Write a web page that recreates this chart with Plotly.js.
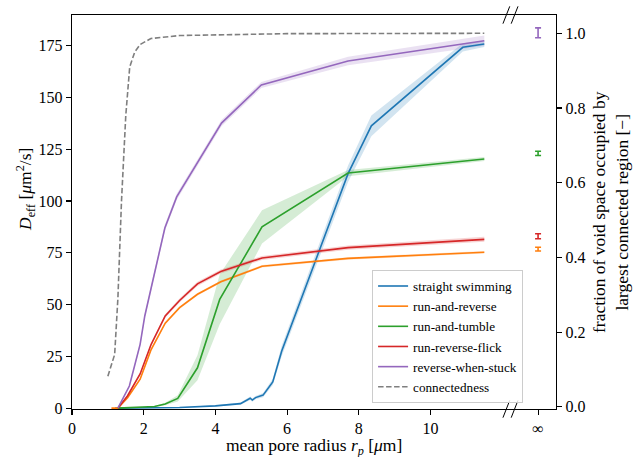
<!DOCTYPE html>
<html>
<head>
<meta charset="utf-8">
<script src="https://cdn.plot.ly/plotly-3.0.1.min.js"></script>
<style>html,body{margin:0;padding:0;background:#fff;}#chart{width:638px;height:457px;}</style>
</head>
<body>
<div id="chart"></div>
<script>
// ---- data ----
const seriesNames = ["straight swimming", "run-and-reverse", "run-and-tumble", "run-reverse-flick", "reverse-when-stuck"];

const blueX   = [1.2, 2.0, 3.0, 4.0, 4.7, 4.97, 5.03, 5.12, 5.33, 5.6, 5.85, 7.7, 8.35, 10.9, 11.5];
const blueY   = [0, 0.1, 0.3, 1.1, 2.2, 4.8, 3.9, 5.1, 6.3, 12.7, 27.6, 113.2, 136.3, 174.2, 175.8];
const blueErr = [0, 0.05, 0.1, 0.3, 0.5, 0.8, 0.8, 0.8, 1.0, 1.5, 2.5, 4.0, 5.0, 2.0, 1.5];

const orangeX   = [1.1, 1.28, 1.55, 1.9, 2.2, 2.6, 3.0, 3.5, 4.15, 5.3, 7.7, 11.5];
const orangeY   = [0, 0, 5, 14, 28, 41, 48.5, 55, 61, 68.5, 72.3, 75.3];
const orangeErr = [0, 0, 0.3, 0.5, 0.6, 0.6, 0.6, 0.6, 0.6, 0.6, 0.6, 0.6];

const greenX   = [1.28, 1.9, 2.3, 2.6, 2.95, 3.5, 4.12, 5.3, 7.7, 11.5];
const greenY   = [0, 0.3, 0.8, 2, 4.7, 19.5, 52.5, 87.5, 113.5, 120.3];
const greenErr = [0, 0.1, 0.3, 0.6, 1.5, 6, 12, 8, 1.5, 1];

const redX   = [1.28, 1.55, 1.9, 2.2, 2.6, 3.0, 3.5, 4.15, 5.3, 7.7, 11.5];
const redY   = [0, 6, 16.5, 30.5, 44.5, 52, 60, 66, 72.5, 77.5, 81.5];
const redErr = [0, 0.4, 0.6, 0.8, 0.9, 1, 1, 1, 1, 1, 1.2];

const purpleX   = [1.28, 1.6, 1.9, 2.03, 2.26, 2.59, 2.92, 4.17, 5.28, 7.7, 11.5];
const purpleY   = [0, 10.7, 30.8, 44.5, 62, 87, 102, 137.6, 156, 167.6, 177.4];
const purpleErr = [0, 0.5, 1, 1, 1.2, 1.5, 1.5, 1.5, 1.5, 2, 2.5];

const connX = [1.0, 1.19, 1.28, 1.38, 1.5, 1.61, 1.75, 1.9, 2.2, 3.0, 6.0, 11.5];
const connY = [0.082, 0.14, 0.29, 0.55, 0.78, 0.91, 0.95, 0.97, 0.986, 0.994, 0.999, 1.0];

// free-space (r_p -> infinity) values
const infX   = 13;
const infY   = [null, 76.8, 123, 83, 181.2];
const infErr = [null, 0.9, 1.0, 1.2, 2.4];

const xTickVals = [0, 2, 4, 6, 8, 10, 13];
const xTickText = ["0", "2", "4", "6", "8", "10", "∞"];
const yTickVals = [0, 25, 50, 75, 100, 125, 150, 175];
const y2TickVals = [0, 0.2, 0.4, 0.6, 0.8, 1.0];

const xTitle  = "mean pore radius <i>r</i><sub><i>p</i></sub> [<i>μ</i>m]";
const yTitle  = "<i>D</i><sub>eff</sub> [<i>μ</i>m<sup>2</sup>/s]";
const y2Title = "fraction of void space occupied by<br>largest connected region [−]";

// ---- styling ----
const colors = ["#1f77b4", "#ff7f0e", "#2ca02c", "#d62728", "#9467bd"];
const fills  = ["rgba(31,119,180,0.2)", "rgba(255,127,14,0.2)", "rgba(44,160,44,0.2)", "rgba(214,39,40,0.2)", "rgba(148,103,189,0.2)"];
const FONT = "serif";

const allX = [blueX, orangeX, greenX, redX, purpleX];
const allY = [blueY, orangeY, greenY, redY, purpleY];
const allE = [blueErr, orangeErr, greenErr, redErr, purpleErr];

const traces = [];
for (let i = 0; i < 5; i++) {
  const xs = allX[i], ys = allY[i], es = allE[i];
  const up = ys.map((v, k) => v + es[k]);
  const lo = ys.map((v, k) => v - es[k]);
  traces.push({
    x: xs.concat(xs.slice().reverse()),
    y: up.concat(lo.slice().reverse()),
    type: "scatter", mode: "lines", fill: "toself",
    fillcolor: fills[i], line: {width: 0}, showlegend: false, hoverinfo: "skip"
  });
}
for (let i = 0; i < 5; i++) {
  traces.push({
    x: allX[i], y: allY[i], type: "scatter", mode: "lines",
    name: seriesNames[i], line: {color: colors[i], width: 1.6}
  });
}
traces.push({
  x: connX, y: connY, yaxis: "y2", type: "scatter", mode: "lines",
  name: "connectedness", line: {color: "#7f7f7f", width: 1.6, dash: "5.5px,2.5px"}
});
for (let i = 0; i < 5; i++) {
  if (infY[i] === null) continue;
  traces.push({
    x: [infX], y: [infY[i]], type: "scatter", mode: "markers",
    marker: {size: 1, color: "rgba(0,0,0,0)"}, showlegend: false, cliponaxis: false,
    error_y: {type: "data", array: [infErr[i]], color: colors[i], thickness: 1.6, width: 3}
  });
}

const slash = (x0, yc) => ({
  type: "line", xref: "x", yref: "paper", layer: "above",
  x0: x0, x1: x0 + 0.19, y0: yc - 0.022, y1: yc + 0.022,
  line: {color: "#000", width: 1}
});

const axisCommon = {
  showgrid: false, zeroline: false, showline: true, linecolor: "#000", linewidth: 1.2,
  ticks: "outside", ticklen: 5, tickwidth: 1.1, tickcolor: "#000",
  tickfont: {family: FONT, size: 16, color: "#000"}
};

const titleFont = {family: FONT, size: 17.5, color: "#000"};

const layout = {
  width: 638, height: 457,
  margin: {l: 72, r: 82, t: 15, b: 48, pad: 0},
  paper_bgcolor: "#fff", plot_bgcolor: "#fff",
  font: {family: FONT, size: 16, color: "#000"},
  showlegend: true,
  xaxis: Object.assign({}, axisCommon, {
    range: [0, 13.5], tickmode: "array", tickvals: xTickVals, ticktext: xTickText, mirror: true
  }),
  yaxis: Object.assign({}, axisCommon, {
    range: [-0.4, 189.8], tickmode: "array", tickvals: yTickVals, mirror: true
  }),
  yaxis2: Object.assign({}, axisCommon, {
    overlaying: "y", side: "right", range: [-0.006, 1.049], tickmode: "array",
    tickvals: y2TickVals, ticktext: y2TickVals.map(v => v.toFixed(1))
  }),
  legend: {
    x: 0.62, y: 0.353, xanchor: "left", yanchor: "top",
    bgcolor: "rgba(255,255,255,0.85)", bordercolor: "#cccccc", borderwidth: 1,
    font: {family: FONT, size: 13.2, color: "#000"}, tracegroupgap: 0, itemwidth: 30
  },
  annotations: [
    {text: xTitle, xref: "paper", yref: "paper", x: 0.5, y: -0.095, xanchor: "center", yanchor: "middle", showarrow: false, font: titleFont},
    {text: yTitle, xref: "paper", yref: "paper", x: -0.095, y: 0.556, xanchor: "center", yanchor: "middle", textangle: -90, showarrow: false, font: titleFont},
    {text: y2Title, xref: "paper", yref: "paper", x: 1.1116, y: 0.5, xanchor: "center", yanchor: "middle", textangle: -90, showarrow: false, font: titleFont}
  ],
  shapes: [slash(12.02, 0), slash(12.25, 0), slash(12.02, 1), slash(12.25, 1)]
};

Plotly.newPlot("chart", traces, layout, {staticPlot: true, displayModeBar: false});
</script>
</body>
</html>
